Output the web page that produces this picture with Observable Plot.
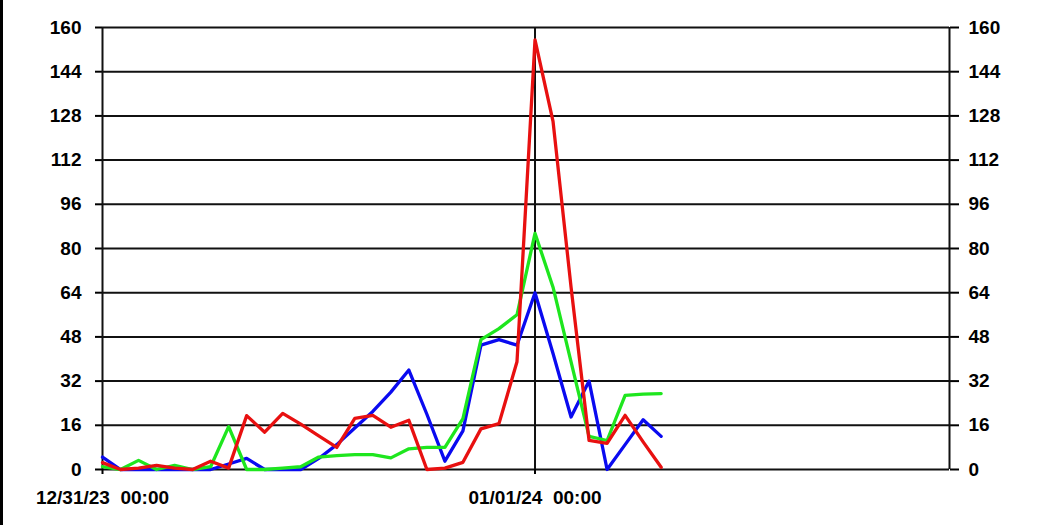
<!DOCTYPE html>
<html>
<head>
<meta charset="utf-8">
<script src="https://cdn.jsdelivr.net/npm/d3@7"></script>
<script src="https://cdn.jsdelivr.net/npm/@observablehq/plot@0.6"></script>
<style>
html, body { margin: 0; padding: 0; background: #fff; }
#frame { position: relative; width: 1050px; height: 525px; overflow: hidden; background: #fff; }
#chart { position: absolute; left: 0; top: 0; }
#edge { position: absolute; left: 0; top: 0; width: 3px; height: 525px; background: #000; }
svg text { white-space: pre; }
</style>
</head>
<body>
<div id="frame"><div id="chart"></div><div id="edge"></div></div>
<script>
// hours since 12/31/23 00:00
const hours = [0,1,2,3,4,5,6,7,8,9,10,11,12,13,14,15,16,17,18,19,20,21,22,23,24,25,26,27,28,29,30,31];
const blueSeries  = [4.5,0,0,0,0,0,0,2,4,0,0,0,4,9,15,21,28,36,20,3,14,45,47,45,64,42,19,32,0,9,18,12];
const greenSeries = [1,0,3.3,0,1.5,0,1,15.5,0,0,0.5,1,4.5,5,5.4,5.4,4.2,7.5,8,8,18.4,47,51,56,85.5,66,39,12,10.5,26.8,27.3,27.5];
const redSeries   = [2.5,0,0.5,1.5,0.5,0,3,0.5,19.5,13.5,20.3,16.4,12.2,8,18.5,19.6,15.3,17.8,0,0.5,2.6,14.7,16.6,39,155.5,126,66,10.5,9.5,19.6,10,0.8];
const yTicks = [0,16,32,48,64,80,96,112,128,144,160];
const xTicks = [0,24];
const xTickLabels = ["12/31/23  00:00", "01/01/24  00:00"];
const xDomain = [0,47];
const yDomain = [0,160];

const toRows = (vals) => hours.map((h, i) => ({h, v: vals[i]}));

const chart = Plot.plot({
  width: 1050,
  height: 525,
  marginLeft: 102,
  marginRight: 101,
  marginTop: 27,
  marginBottom: 56,
  x: {type: "linear", domain: xDomain, axis: null},
  y: {type: "linear", domain: yDomain, axis: null},
  style: {
    fontFamily: "'Liberation Sans', Arial, sans-serif",
    fontWeight: "bold",
    fontSize: "19px",
    color: "#000",
    background: "transparent",
    overflow: "visible"
  },
  marks: [
    Plot.ruleY(yTicks, {stroke: "#111", strokeWidth: 2}),
    Plot.axisY({anchor: "left", ticks: yTicks, tickSize: 7, tickPadding: 14, tickFormat: d => String(d), label: null, strokeWidth: 2, fontSize: 19}),
    Plot.axisY({anchor: "right", ticks: yTicks, tickSize: 9, tickPadding: 10, tickFormat: d => String(d), label: null, strokeWidth: 2, fontSize: 19}),
    Plot.ruleX(xTicks, {y1: yDomain[0], y2: yDomain[1], stroke: "#111", strokeWidth: 2}),
    Plot.ruleX([xDomain[1]], {y1: yDomain[0], y2: yDomain[1], stroke: "#111", strokeWidth: 2}),
    Plot.axisX({ticks: xTicks, tickFormat: d => xTickLabels[xTicks.indexOf(d)], tickSize: 5, tickPadding: 16, label: null, strokeWidth: 2, fontSize: 19}),
    Plot.line(toRows(blueSeries),  {x: "h", y: "v", stroke: "#0a0af0", strokeWidth: 3.3, strokeLinejoin: "round"}),
    Plot.line(toRows(greenSeries), {x: "h", y: "v", stroke: "#1ee61e", strokeWidth: 3.3, strokeLinejoin: "round"}),
    Plot.line(toRows(redSeries),   {x: "h", y: "v", stroke: "#e81010", strokeWidth: 3.3, strokeLinejoin: "round"})
  ]
});
document.getElementById("chart").appendChild(chart);
</script>
</body>
</html>
